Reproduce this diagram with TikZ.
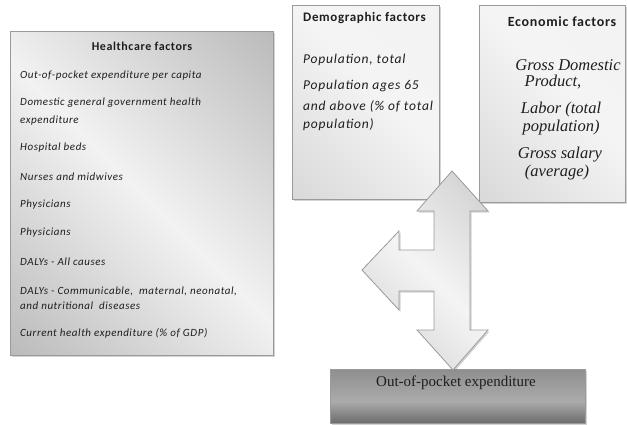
\documentclass[tikz,border=0pt]{standalone}
\usepackage{fontspec}
\setmainfont{Liberation Serif}
\newfontfamily\carlitofam{Carlito}[LetterSpace=5]
\newfontfamily\carlitowide{Carlito}[LetterSpace=6]
\newfontfamily\timesfam{Liberation Serif}
\usetikzlibrary{shadows}
\definecolor{gD}{HTML}{A4A4A4}
\definecolor{gL}{HTML}{F2F2F2}
\definecolor{gM}{HTML}{CFCFCF}
\definecolor{gP}{HTML}{F4F4F4}
\definecolor{gA}{HTML}{BDBDBD}
\definecolor{bd}{HTML}{9A9A9A}
\definecolor{o1}{HTML}{767676}
\definecolor{o2}{HTML}{8E8E8E}
\definecolor{o3}{HTML}{ABABAB}
\definecolor{o4}{HTML}{6C6C6C}
\definecolor{o5}{HTML}{949494}
\definecolor{tx}{HTML}{1E1E1E}
\pgfdeclarehorizontalshading{hcshade}{100bp}{color(0bp)=(gD); color(50bp)=(gL); color(100bp)=(gD)}
\pgfdeclarehorizontalshading{lightshade}{100bp}{color(0bp)=(gM); color(55bp)=(gP); color(100bp)=(gL)}
\pgfdeclarehorizontalshading{arrowshade}{100bp}{color(0bp)=(gA); color(50bp)=(gP); color(100bp)=(gA)}
\pgfdeclareverticalshading{oopshade}{100bp}{color(0bp)=(o5); color(25bp)=(o4); color(45bp)=(o3); color(75bp)=(o2); color(100bp)=(o1)}
\tikzset{
  panel/.style={draw=bd, line width=0.8pt, drop shadow={shadow xshift=1.5pt, shadow yshift=-1.5pt, opacity=0.35}},
  hcitem/.style={anchor=west, font=\carlitofam\itshape\fontsize{11}{14}\selectfont, text=tx, inner sep=0pt},
  hctitle/.style={font=\carlitofam\bfseries\fontsize{12}{14}\selectfont, text=tx, inner sep=0pt},
  dmitem/.style={anchor=west, font=\carlitowide\itshape\fontsize{13.5}{15}\selectfont, text=tx, inner sep=0pt},
  ecitem/.style={font=\timesfam\itshape\fontsize{16.5}{18}\selectfont, text=tx, inner sep=0pt},
}
\begin{document}
\begin{tikzpicture}[x=1pt,y=-1pt]
\useasboundingbox (0,0) rectangle (627,424);
% boxes
\path[panel, shading=hcshade, shading angle=45] (10,31) rectangle (273,355);
\path[panel, shading=lightshade, shading angle=45] (292,5) rectangle (439,199);
\path[panel, shading=lightshade, shading angle=45] (479,5) rectangle (625,202);
\path[panel, shading=oopshade] (330,369) rectangle (585,423);
% arrow
\path[draw=bd, line width=0.8pt, shading=arrowshade, shading angle=45,
      drop shadow={shadow xshift=1.5pt, shadow yshift=-1.5pt, opacity=0.35}]
  (452,171) -- (488,211) -- (470,211) -- (470,330) -- (488,330) -- (453,370)
  -- (417,330) -- (434,330) -- (434,291) -- (399,291) -- (399,310) -- (362,270)
  -- (399,231) -- (399,250) -- (434,250) -- (434,211) -- (417,211) -- cycle;
% healthcare texts
\node[hctitle] (hct) at (142,46) {Healthcare factors};
\node[hcitem] (h1) at (20,76) {Out-of-pocket expenditure per capita};
\node[hcitem] (h2) at (20,103) {Domestic general government health};
\node[hcitem] (h2b) at (20,121) {expenditure};
\node[hcitem] (h3) at (20,148) {Hospital beds};
\node[hcitem] (h4) at (20,177) {Nurses and midwives};
\node[hcitem] (h5) at (20,205) {Physicians};
\node[hcitem] (h6) at (20,233) {Physicians};
\node[hcitem] (h7) at (20,262) {DALYs - All causes};
\node[hcitem] (h8) at (20,291) {DALYs - Communicable,\ \ maternal, neonatal,};
\node[hcitem] (h8b) at (20,306) {and nutritional\ \ diseases};
\node[hcitem] (h9) at (20,333) {Current health expenditure (\% of GDP)};
% demographic texts
\node[anchor=west, font=\carlitofam\bfseries\fontsize{13}{15}\selectfont, text=tx, inner sep=0pt] (dmt) at (303,18) {Demographic factors};
\node[dmitem] (d1) at (303,60) {Population, total};
\node[dmitem] (d2) at (303,86) {Population ages 65};
\node[dmitem] (d2b) at (303,106) {and above (\% of total};
\node[dmitem] (d2c) at (303,125) {population)};
% economic texts
\node[font=\carlitofam\bfseries\fontsize{14}{16}\selectfont, text=tx, inner sep=0pt] (ect) at (562,22) {Economic factors};
\node[ecitem] (e1) at (568,65) {Gross Domestic};
\node[ecitem] (e1b) at (553,82) {Product,};
\node[ecitem] (e2) at (561,110) {Labor (total};
\node[ecitem] (e2b) at (561,128) {population)};
\node[ecitem] (e3) at (560,155) {Gross salary};
\node[ecitem] (e3b) at (557,173) {(average)};
% outcome
\node[font=\timesfam\fontsize{15}{17}\selectfont, text=tx, inner sep=0pt] (oop) at (456,383) {Out-of-pocket expenditure};
\end{tikzpicture}
\end{document}
